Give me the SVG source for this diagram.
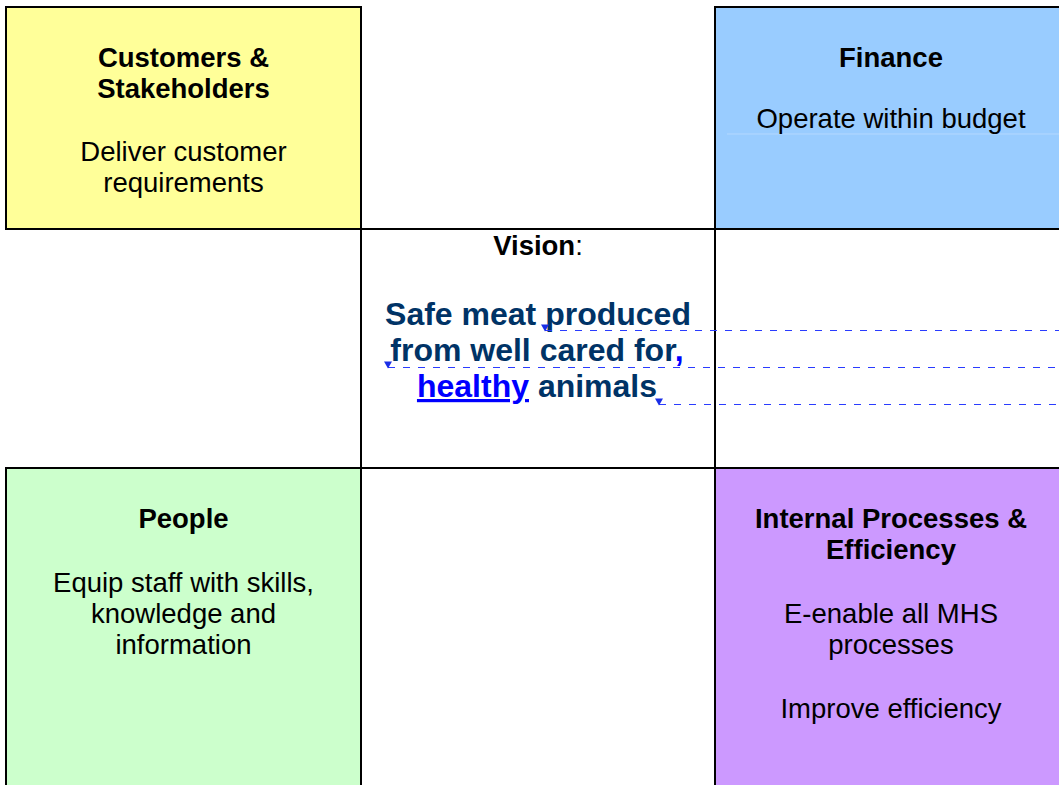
<svg xmlns="http://www.w3.org/2000/svg" width="1059" height="785" viewBox="0 0 1059 785">
  <style>
    .cell { stroke: #000; stroke-width: 2; }
    .grid { stroke: #000; stroke-width: 2; fill: none; }
    text { font-family: "Liberation Sans", Arial, sans-serif; font-size: 27.5px; fill: #000; text-anchor: middle; }
    .b { font-weight: bold; }
    .vision { font-size: 32px; font-weight: bold; fill: #003366; }
    .ins { fill: #0000ff; text-decoration: underline; }
    .mark { stroke: #2a3cff; stroke-width: 1; stroke-dasharray: 7 8; fill: none; }
    .tri { fill: #1a2ee6; }
  </style>

  <rect width="1059" height="785" fill="#fff"/>

  <!-- top-left quadrant -->
  <g id="customers">
    <rect class="cell" x="6" y="7" width="355" height="222" fill="#ffff99"/>
    <text class="b" x="183.5" y="67">Customers &amp;</text>
    <text class="b" x="183.5" y="98">Stakeholders</text>
    <text x="183.5" y="161">Deliver customer</text>
    <text x="183.5" y="192">requirements</text>
  </g>

  <!-- top-right quadrant -->
  <g id="finance">
    <rect class="cell" x="715" y="7" width="360" height="222" fill="#99ccff"/>
    <line x1="727" y1="134" x2="1059" y2="134" stroke="#b4d8ff" stroke-width="1"/>
    <text class="b" x="891" y="67">Finance</text>
    <text x="891" y="128">Operate within budget</text>
  </g>

  <!-- centre cell with the vision statement -->
  <g id="vision">
    <rect class="cell" x="361" y="229" width="354" height="239" fill="#fff"/>
    <text x="538" y="255"><tspan class="b">Vision</tspan>:</text>
    <text class="vision" x="538" y="325">Safe meat produced</text>
    <text class="vision" x="537" y="361">from well cared for<tspan class="ins">,</tspan></text>
    <text class="vision" x="537" y="397"><tspan class="ins">healthy</tspan> animals</text>
  </g>

  <!-- bottom-left quadrant -->
  <g id="people">
    <rect class="cell" x="6" y="468" width="355" height="330" fill="#ccffcc"/>
    <text class="b" x="183.5" y="528">People</text>
    <text x="183.5" y="592">Equip staff with skills,</text>
    <text x="183.5" y="623">knowledge and</text>
    <text x="183.5" y="654">information</text>
  </g>

  <!-- bottom-right quadrant -->
  <g id="processes">
    <rect class="cell" x="715" y="468" width="360" height="330" fill="#cc99ff"/>
    <text class="b" x="891" y="528">Internal Processes &amp;</text>
    <text class="b" x="891" y="559">Efficiency</text>
    <text x="891" y="623">E-enable all MHS</text>
    <text x="891" y="654">processes</text>
    <text x="891" y="718">Improve efficiency</text>
  </g>

  <!-- grid rules across the middle band and under the centre cell -->
  <g id="grid">
    <line class="grid" x1="5" y1="229" x2="1059" y2="229"/>
    <line class="grid" x1="5" y1="468" x2="1059" y2="468"/>
    <line class="grid" x1="361" y1="468" x2="361" y2="785"/>
    <line class="grid" x1="715" y1="468" x2="715" y2="785"/>
  </g>

  <!-- revision markers: dashed leader lines from the edit points -->
  <g id="connectors">
    <line class="mark" x1="545" y1="330.5" x2="1059" y2="330.5"/>
    <line class="mark" x1="388" y1="367.5" x2="1059" y2="367.5"/>
    <line class="mark" x1="659" y1="404.5" x2="1059" y2="404.5"/>
    <polygon class="tri" points="541,324.5 549,324.5 545,331.5"/>
    <polygon class="tri" points="384,361.5 392,361.5 388,368.5"/>
    <polygon class="tri" points="655,398.5 663,398.5 659,405.5"/>
  </g>
</svg>
